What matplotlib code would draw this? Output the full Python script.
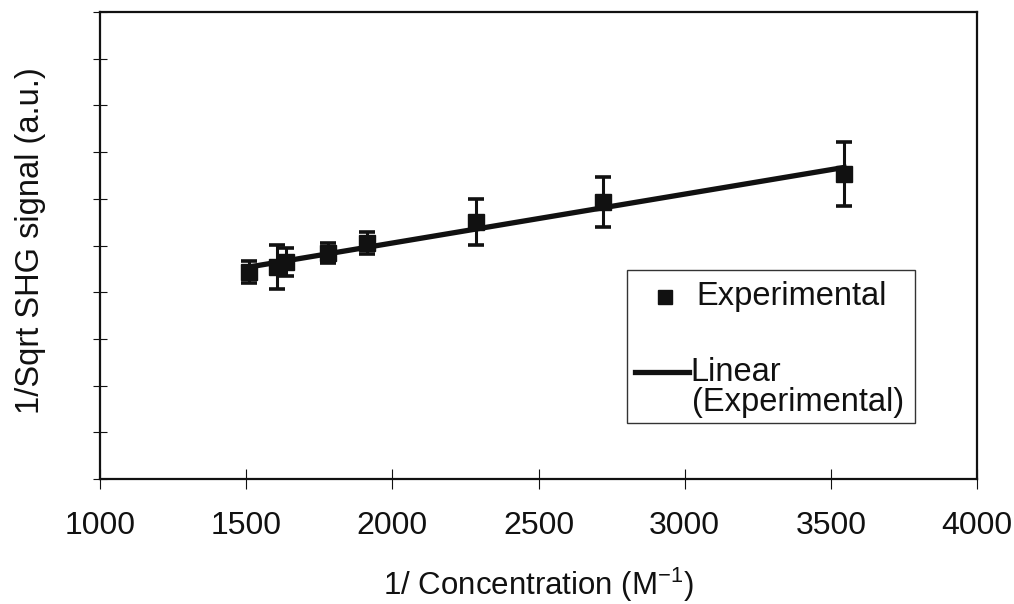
import matplotlib
matplotlib.use("Agg")
import matplotlib.pyplot as plt
import numpy as np
from matplotlib.patches import Rectangle

plt.rcParams["font.family"] = ["Liberation Sans", "DejaVu Sans"]
plt.rcParams["mathtext.fontset"] = "custom"
plt.rcParams["mathtext.rm"] = "Liberation Sans"
plt.rcParams["mathtext.it"] = "Liberation Sans"

# 1/concentration (M^-1), 1/sqrt(SHG) (a.u.), error
inv_conc = np.array([1510, 1605, 1635, 1780, 1915, 2285, 2720, 3545])
inv_sqrt_shg = np.array([4.43, 4.54, 4.65, 4.84, 5.05, 5.50, 5.93, 6.53])
err = np.array([0.24, 0.47, 0.30, 0.22, 0.24, 0.49, 0.53, 0.69])

x_ticks = [1000, 1500, 2000, 2500, 3000, 3500, 4000]
y_ticks = np.arange(0, 11, 1)

INK = "#111111"

fig = plt.figure(figsize=(10.14, 6.04), dpi=100)
ax = fig.add_axes([0.0986, 0.207, 0.865, 0.773])

ax.errorbar(inv_conc, inv_sqrt_shg, yerr=err, fmt="s", ms=11.5, color=INK,
            ecolor=INK, elinewidth=2.2, capsize=6, capthick=2.6, zorder=3)

slope, intercept = np.polyfit(inv_conc, inv_sqrt_shg, 1)
fit_x = np.array([inv_conc.min(), inv_conc.max()])
ax.plot(fit_x, slope * fit_x + intercept, color=INK, lw=3.8, zorder=2)

ax.set_xlim(1000, 4000)
ax.set_ylim(0, 10)
ax.set_xticks(x_ticks)
ax.set_yticks(y_ticks)
ax.set_yticklabels([])
ax.tick_params(axis="x", direction="inout", length=14, width=0.8, pad=16,
               labelsize=23, colors=INK)
ax.tick_params(axis="y", direction="inout", length=9.5, width=0.8, colors=INK)
for side in ("top", "right", "bottom", "left"):
    ax.spines[side].set_linewidth(1.6)
    ax.spines[side].set_color(INK)

ax.set_xlabel("1/ Concentration (M$^{-1}$)", fontsize=22.5, color=INK, va="center")
ax.xaxis.set_label_coords(0.5, -0.227)
ax.set_ylabel("1/Sqrt SHG signal (a.u.)", fontsize=23.5, color=INK, va="center")
ax.yaxis.set_label_coords(-0.079, 0.51)

# legend box drawn by hand so the line sits next to the first label line
lx0, ly0, lw_, lh = 0.601, 0.12, 0.328, 0.3275
ax.add_patch(Rectangle((lx0, ly0), lw_, lh, transform=ax.transAxes, fill=False,
                       edgecolor="#333333", lw=1.0, clip_on=False, zorder=4))
ax.plot([0.6445], [0.390], "s", ms=9.5, color=INK, transform=ax.transAxes,
        clip_on=False, zorder=5)
ax.text(0.680, 0.390, "Experimental", transform=ax.transAxes, fontsize=23.5,
        color=INK, va="center", ha="left")
ax.plot([0.610, 0.672], [0.229, 0.229], color=INK, lw=3.8,
        transform=ax.transAxes, clip_on=False, zorder=5)
ax.text(0.673, 0.229, "Linear", transform=ax.transAxes, fontsize=23.5,
        color=INK, va="center", ha="left")
ax.text(0.675, 0.163, "(Experimental)", transform=ax.transAxes, fontsize=23.5,
        color=INK, va="center", ha="left")

fig.savefig("out.png", dpi=100, facecolor="white")
